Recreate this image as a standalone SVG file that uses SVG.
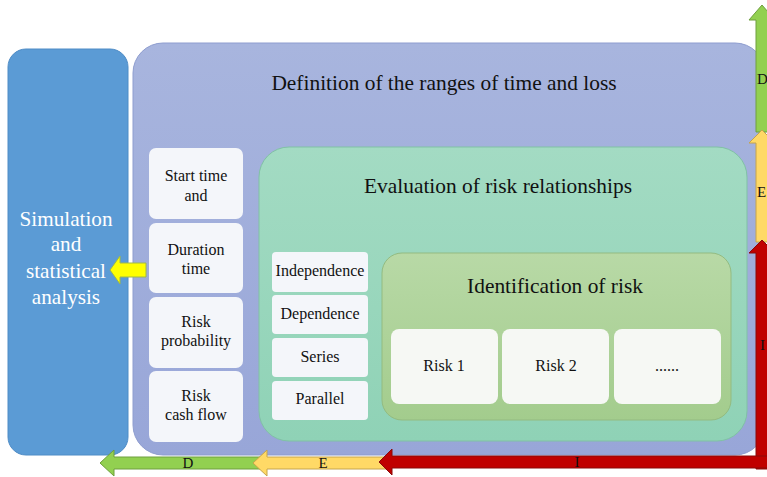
<svg xmlns="http://www.w3.org/2000/svg" width="767" height="477" viewBox="0 0 767 477">
  <style>
    .t { font-family: "Liberation Serif", "DejaVu Serif", "Times New Roman", serif; fill: #111; text-anchor: middle; }
    .big { font-size: 21.4px; }
    .sm { font-size: 16px; }
    .side { font-size: 21.2px; fill: #fff; }
    .lbl { font-family: "Liberation Serif", "DejaVu Serif", "Times New Roman", serif; font-size: 15px; fill: #111; }
    .card { fill: #f4f6fa; }
    .cardg { fill: #f6f8f4; }
  </style>
  <defs>
    <linearGradient id="gPurple" x1="0" y1="0" x2="0" y2="1">
      <stop offset="0" stop-color="#a8b5de"/>
      <stop offset="1" stop-color="#98a6d8"/>
    </linearGradient>
    <linearGradient id="gGreen" x1="0" y1="0" x2="0" y2="1">
      <stop offset="0" stop-color="#a3dbc3"/>
      <stop offset="1" stop-color="#8fd2b6"/>
    </linearGradient>
    <linearGradient id="gLeaf" x1="0" y1="0" x2="0" y2="1">
      <stop offset="0" stop-color="#b8d9a6"/>
      <stop offset="1" stop-color="#a3cc8d"/>
    </linearGradient>
  </defs>

  <rect width="767" height="477" fill="#ffffff"/>

  <!-- simulation block -->
  <g id="simulation">
    <rect x="8" y="49" width="120" height="406" rx="18" fill="#5b9bd5" stroke="#4f8cc6" stroke-width="1"/>
    <text class="t side" x="66" y="226">Simulation</text>
    <text class="t side" x="66" y="251">and</text>
    <text class="t side" x="66" y="278">statistical</text>
    <text class="t side" x="66" y="304">analysis</text>
  </g>

  <!-- ranges of time and loss -->
  <g id="ranges">
    <rect x="133" y="43" width="632" height="412" rx="30" fill="url(#gPurple)" stroke="#8e9dcf" stroke-width="1"/>
    <text class="t big" x="444" y="90">Definition of the ranges of time and loss</text>
  </g>
  <g id="start-time">
    <rect class="card" x="149" y="148" width="94" height="71" rx="7"/>
    <text class="t sm" x="196" y="181">Start time</text>
    <text class="t sm" x="196" y="201">and</text>
  </g>
  <g id="duration">
    <rect class="card" x="149" y="223" width="94" height="70" rx="7"/>
    <text class="t sm" x="196" y="255">Duration</text>
    <text class="t sm" x="196" y="274">time</text>
  </g>
  <g id="probability">
    <rect class="card" x="149" y="297" width="94" height="71" rx="7"/>
    <text class="t sm" x="196" y="327">Risk</text>
    <text class="t sm" x="196" y="346">probability</text>
  </g>
  <g id="cash-flow">
    <rect class="card" x="149" y="371" width="94" height="71" rx="7"/>
    <text class="t sm" x="196" y="401">Risk</text>
    <text class="t sm" x="196" y="420">cash flow</text>
  </g>

  <!-- risk relationships -->
  <g id="relationships">
    <rect x="259" y="147" width="488" height="294" rx="30" fill="url(#gGreen)" stroke="#80c1a5" stroke-width="1"/>
    <text class="t big" x="498" y="193">Evaluation of risk relationships</text>
  </g>
  <g id="independence">
    <rect class="card" x="272" y="252" width="96" height="40" rx="4"/>
    <text class="t sm" x="320" y="276">Independence</text>
  </g>
  <g id="dependence">
    <rect class="card" x="272" y="295" width="96" height="39" rx="4"/>
    <text class="t sm" x="320" y="319">Dependence</text>
  </g>
  <g id="series">
    <rect class="card" x="272" y="338" width="96" height="39" rx="4"/>
    <text class="t sm" x="320" y="362">Series</text>
  </g>
  <g id="parallel">
    <rect class="card" x="272" y="381" width="96" height="39" rx="4"/>
    <text class="t sm" x="320" y="404">Parallel</text>
  </g>

  <!-- identification -->
  <g id="identification">
    <rect x="382" y="253" width="349" height="167" rx="20" fill="url(#gLeaf)" stroke="#93bb80" stroke-width="1"/>
    <text class="t big" x="555" y="293">Identification of risk</text>
  </g>
  <g id="risk1">
    <rect class="cardg" x="391" y="329" width="107" height="75" rx="8"/>
    <text class="t sm" x="444" y="371">Risk 1</text>
  </g>
  <g id="risk2">
    <rect class="cardg" x="502" y="329" width="107" height="75" rx="8"/>
    <text class="t sm" x="556" y="371">Risk 2</text>
  </g>
  <g id="risk-more">
    <rect class="cardg" x="614" y="329" width="107" height="75" rx="8"/>
    <text class="t sm" x="667" y="371">......</text>
  </g>

  <!-- connectors -->
  <g id="connectors">
    <!-- feed into simulation -->
    <polygon points="110,270 120,256 120,263 146,263 146,277 120,277 120,284" fill="#ffff00" stroke="#9fb84a" stroke-width="1"/>

    <!-- vertical scale on the right -->
    <polygon points="762,5 775,20 768,20 768,132 756,132 756,20 749,20" fill="#92d050" stroke="#6e9f3e" stroke-width="1"/>
    <polygon points="762,130 775,143 768,143 768,242 756,242 756,143 749,143" fill="#ffd966" stroke="#c5a44c" stroke-width="1"/>
    <polygon points="762,240 775,253 768,253 768,469 756,469 756,253 749,253" fill="#c00000" stroke="#8a0a0a" stroke-width="1"/>

    <!-- horizontal scale at the bottom -->
    <polygon points="100,463 114,450 114,457 262,457 262,469 114,469 114,476" fill="#92d050" stroke="#6e9f3e" stroke-width="1"/>
    <polygon points="253,463 267,450 267,457 386,457 386,469 267,469 267,476" fill="#ffd966" stroke="#c5a44c" stroke-width="1"/>
    <polygon points="379,462 392,449 392,456 768,456 768,468 392,468 392,475" fill="#c00000" stroke="#8a0a0a" stroke-width="1"/>

    <text class="lbl" x="757" y="84">D</text>
    <text class="lbl" x="757" y="197">E</text>
    <text class="lbl" x="760" y="350">I</text>
    <text class="lbl" x="188" y="468" text-anchor="middle">D</text>
    <text class="lbl" x="323" y="468" text-anchor="middle">E</text>
    <text class="lbl" x="577" y="467" text-anchor="middle">I</text>
  </g>
</svg>
